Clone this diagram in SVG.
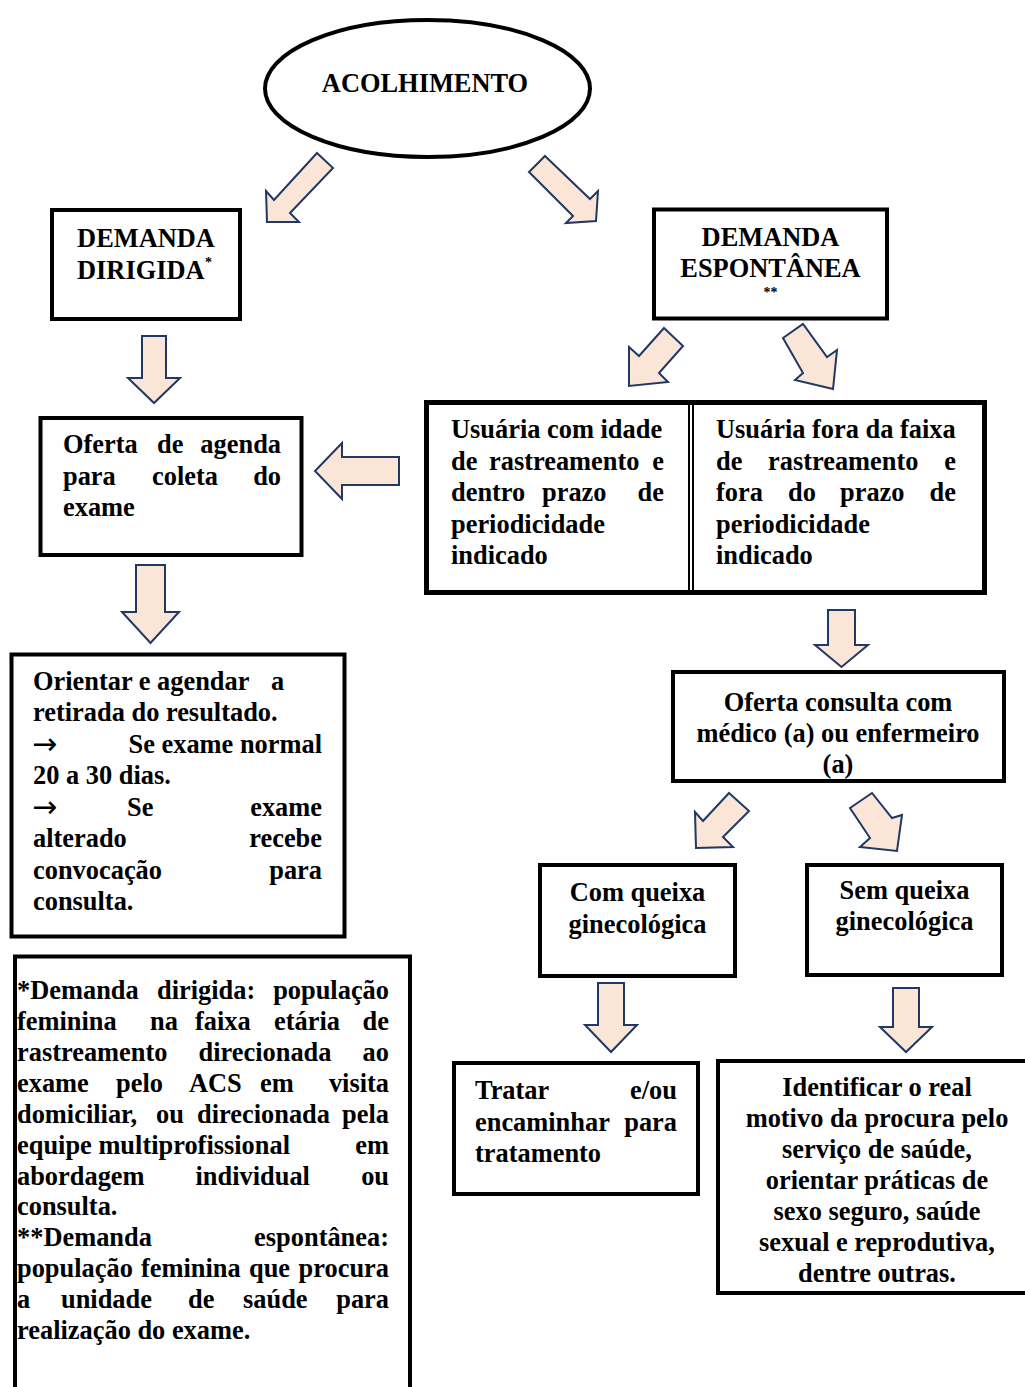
<svg xmlns="http://www.w3.org/2000/svg" width="1025" height="1387" viewBox="0 0 1025 1387">
<style>
.box{fill:#fff;stroke:#000;stroke-width:4}
.arr{fill:#FBE5D6;stroke:#1F3864;stroke-width:2;stroke-linejoin:miter}
.t{font-family:"Liberation Serif","Times New Roman",serif;font-weight:bold;font-size:26.4px;fill:#000}
.c{text-anchor:middle}
.e{text-anchor:end}
.sm{font-size:14px}
.ar{font-family:"DejaVu Sans","Liberation Serif",sans-serif;font-weight:normal;font-size:30px;fill:#000}
</style>
<rect width="1025" height="1387" fill="#fff"/>
<g id="connectors">
<polygon class="arr" points="317,153 333,168 290,213 299,222 267,222 266,191 274,200"/>
<polygon class="arr" points="545,156 590,199 598,191 596,221 566,223 573,216 529,172"/>
<polygon class="arr" points="142,336 166,336 166,378 180,378 154,403 128,378 142,378"/>
<polygon class="arr" points="399,457 399,485 342,485 342,499 315,471 342,443 342,457"/>
<polygon class="arr" points="664,328 683,346 659,373 668,382 629,386 629,347 639,356"/>
<polygon class="arr" points="783,338 803,324 827,357 837,350 833,389 795,380 803,373"/>
<polygon class="arr" points="828,610 855,610 855,645 868,645 841.5,667 815,645 828,645"/>
<polygon class="arr" points="729,793 749,811 723,837 733,847 696,848 695,812 703,821"/>
<polygon class="arr" points="850,808 872,793 892,818 902,815 897,851 860,847 870,838"/>
<polygon class="arr" points="598,983 624,983 624,1025 637,1025 611,1052 585,1025 598,1025"/>
<polygon class="arr" points="893,988 919,988 919,1027 932,1027 906,1052 880,1027 893,1027"/>
<polygon class="arr" points="136,565 165,565 165,612 179,612 150.5,643 122,612 136,612"/>
</g>
<g id="acolhimento">
<ellipse cx="427.5" cy="88.5" rx="162.5" ry="68.5" fill="#fff" stroke="#000" stroke-width="4"/>
<text class="t c" x="425" y="92">ACOLHIMENTO</text>
</g>
<g id="demanda-dirigida">
<rect class="box" x="52" y="210" width="188" height="109"/>
<text class="t c" x="146" y="247">DEMANDA</text>
<text class="t" x="77" y="279">DIRIGIDA</text>
<text class="t sm" x="205" y="267">*</text>
</g>
<g id="demanda-espontanea">
<rect class="box" x="654" y="209.5" width="233" height="109"/>
<text class="t c" x="770.5" y="246">DEMANDA</text>
<text class="t c" x="770.5" y="277">ESPONTÂNEA</text>
<text class="t c sm" x="770.5" y="297">**</text>
</g>
<g id="usuarias">
<rect x="426.5" y="402.5" width="558" height="190" fill="#fff" stroke="#000" stroke-width="5"/>
<line x1="689" y1="402" x2="689" y2="593" stroke="#000" stroke-width="2"/>
<line x1="693" y1="402" x2="693" y2="593" stroke="#000" stroke-width="2"/>
</g>
<g id="usuaria-dentro">
<text class="t" x="451" y="438">Usuária com idade</text>
<text class="t" x="451" y="469.5">de</text>
<text class="t" x="489" y="469.5">rastreamento</text>
<text class="t e" x="664" y="469.5">e</text>
<text class="t" x="451" y="501">dentro</text>
<text class="t" x="542" y="501">prazo</text>
<text class="t e" x="664" y="501">de</text>
<text class="t" x="451" y="532.5">periodicidade</text>
<text class="t" x="451" y="564">indicado</text>
</g>
<g id="usuaria-fora">
<text class="t" x="716" y="438">Usuária fora da faixa</text>
<text class="t" x="716" y="469.5">de</text>
<text class="t" x="768" y="469.5">rastreamento</text>
<text class="t e" x="956" y="469.5">e</text>
<text class="t" x="716" y="501">fora</text>
<text class="t" x="788" y="501">do</text>
<text class="t" x="840" y="501">prazo</text>
<text class="t e" x="956" y="501">de</text>
<text class="t" x="716" y="532.5">periodicidade</text>
<text class="t" x="716" y="564">indicado</text>
</g>
<g id="oferta-agenda">
<rect class="box" x="40.5" y="418" width="261" height="137"/>
<text class="t" x="63" y="453">Oferta</text>
<text class="t" x="157" y="453">de</text>
<text class="t e" x="281" y="453">agenda</text>
<text class="t" x="63" y="484.5">para</text>
<text class="t" x="152" y="484.5">coleta</text>
<text class="t e" x="281" y="484.5">do</text>
<text class="t" x="63" y="516">exame</text>
</g>
<g id="orientar">
<rect class="box" x="11.5" y="654.5" width="333" height="282"/>
<text class="t" x="33" y="689.5">Orientar e agendar</text>
<text class="t" x="271" y="689.5">a</text>
<text class="t" x="33" y="721">retirada do resultado.</text>
<text class="ar" x="32" y="754">→</text>
<text class="t e" x="322" y="752.5">Se exame normal</text>
<text class="t" x="33" y="784">20 a 30 dias.</text>
<text class="ar" x="32" y="817">→</text>
<text class="t" x="127" y="815.5">Se</text>
<text class="t e" x="322" y="815.5">exame</text>
<text class="t" x="33" y="847">alterado</text>
<text class="t e" x="322" y="847">recebe</text>
<text class="t" x="33" y="878.5">convocação</text>
<text class="t e" x="322" y="878.5">para</text>
<text class="t" x="33" y="910">consulta.</text>
</g>
<g id="nota">
<rect x="15" y="956.5" width="395" height="460" fill="#fff" stroke="#000" stroke-width="4"/>
<text class="t" x="17" y="999">*Demanda</text>
<text class="t" x="157" y="999">dirigida:</text>
<text class="t e" x="389" y="999">população</text>
<text class="t" x="17" y="1030">feminina</text>
<text class="t" x="150" y="1030">na</text>
<text class="t" x="195" y="1030">faixa</text>
<text class="t" x="274" y="1030">etária</text>
<text class="t e" x="389" y="1030">de</text>
<text class="t" x="17" y="1061">rastreamento</text>
<text class="t" x="198.5" y="1061">direcionada</text>
<text class="t e" x="389" y="1061">ao</text>
<text class="t" x="17" y="1092">exame</text>
<text class="t" x="116" y="1092">pelo</text>
<text class="t" x="189" y="1092">ACS</text>
<text class="t" x="260" y="1092">em</text>
<text class="t e" x="389" y="1092">visita</text>
<text class="t" x="17" y="1122.5">domiciliar,</text>
<text class="t" x="156" y="1122.5">ou</text>
<text class="t" x="197" y="1122.5">direcionada</text>
<text class="t e" x="389" y="1122.5">pela</text>
<text class="t" x="17" y="1153.5">equipe multiprofissional</text>
<text class="t e" x="389" y="1153.5">em</text>
<text class="t" x="17" y="1184.5">abordagem</text>
<text class="t" x="195.5" y="1184.5">individual</text>
<text class="t e" x="389" y="1184.5">ou</text>
<text class="t" x="17" y="1215">consulta.</text>
<text class="t" x="17" y="1246">**Demanda</text>
<text class="t e" x="389" y="1246">espontânea:</text>
<text class="t" x="17" y="1277">população</text>
<text class="t" x="141" y="1277">feminina</text>
<text class="t" x="249" y="1277">que</text>
<text class="t e" x="389" y="1277">procura</text>
<text class="t" x="17" y="1308">a</text>
<text class="t" x="61" y="1308">unidade</text>
<text class="t" x="188" y="1308">de</text>
<text class="t" x="243" y="1308">saúde</text>
<text class="t e" x="389" y="1308">para</text>
<text class="t" x="17" y="1339">realização do exame.</text>
</g>
<g id="oferta-consulta">
<rect class="box" x="673" y="672" width="331" height="109"/>
<text class="t c" x="838" y="711">Oferta consulta com</text>
<text class="t c" x="838" y="742">médico (a) ou enfermeiro</text>
<text class="t c" x="838" y="773">(a)</text>
</g>
<g id="com-queixa">
<rect class="box" x="540" y="865" width="195" height="111"/>
<text class="t c" x="637.5" y="901">Com queixa</text>
<text class="t c" x="637.5" y="932.5">ginecológica</text>
</g>
<g id="sem-queixa">
<rect class="box" x="807" y="865" width="195" height="110"/>
<text class="t c" x="904.5" y="898.5">Sem queixa</text>
<text class="t c" x="904.5" y="930">ginecológica</text>
</g>
<g id="tratar">
<rect class="box" x="454" y="1063" width="244" height="131"/>
<text class="t" x="475" y="1099">Tratar</text>
<text class="t e" x="677" y="1099">e/ou</text>
<text class="t" x="475" y="1130.5">encaminhar</text>
<text class="t e" x="677" y="1130.5">para</text>
<text class="t" x="475" y="1162">tratamento</text>
</g>
<g id="identificar">
<rect class="box" x="718" y="1061" width="320" height="232"/>
<text class="t c" x="877" y="1096">Identificar o real</text>
<text class="t c" x="877" y="1127">motivo da procura pelo</text>
<text class="t c" x="877" y="1158">serviço de saúde,</text>
<text class="t c" x="877" y="1189">orientar práticas de</text>
<text class="t c" x="877" y="1220">sexo seguro, saúde</text>
<text class="t c" x="877" y="1251">sexual e reprodutiva,</text>
<text class="t c" x="877" y="1282">dentre outras.</text>
</g>
</svg>
